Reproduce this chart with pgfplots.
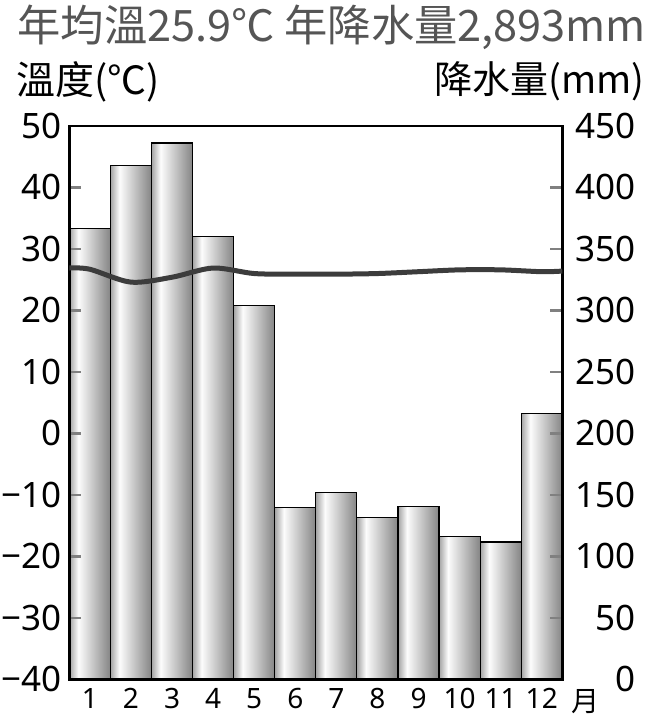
\documentclass[border=0pt]{standalone}
\usepackage{fontspec}
\setmainfont{Noto Sans CJK TC}
\newfontfamily\numfont{Noto Sans}
\usepackage{pgfplots}
\usepackage{pgfplotstable}
\pgfplotsset{compat=1.18}
\definecolor{barL}{gray}{0.64}
\definecolor{barH}{gray}{0.99}
\definecolor{barR}{gray}{0.52}
\definecolor{tline}{RGB}{60,60,60}
\definecolor{titlegray}{RGB}{85,85,85}
\pgfdeclarehorizontalshading{barshade}{100bp}{color(0bp)=(barL); color(25bp)=(barL); color(36bp)=(barH); color(75bp)=(barR); color(100bp)=(barR)}
\pgfplotstableread{
m t
0.5 26.9
1 26.7
2 24.6
3 25.4
4 26.9
5 26.0
6 25.9
7 25.9
8 26.0
9 26.3
10 26.6
11 26.6
12 26.3
12.5 26.4
}\temp
\pgfplotsset{barst/.style={ybar, bar width=1, draw=black, line width=1.2pt, shading=barshade, shade}}
\begin{document}
\begin{tikzpicture}
\path[use as bounding box] (-69.3pt,-35.7pt) rectangle (578.7pt,679.3pt);
\begin{axis}[
  scale only axis, width=493pt, height=553.3pt,
  xmin=0.5, xmax=12.5, ymin=0, ymax=450,
  axis x line=none, axis y line*=right,
  ytick={0,50,...,450},
  y axis line style={line width=2.5pt,-},
  ytick style={line width=2.5pt},
  major tick length=12pt, tick align=inside,
  /pgf/number format/assume math mode=true,
  yticklabel style={font=\numfont\fontsize{35}{35}\selectfont, anchor=east, inner sep=0pt, xshift=73.3pt},
  axis on top,
]
\addplot[barst] coordinates {(1,366.5)};
\addplot[barst] coordinates {(2,417.7)};
\addplot[barst] coordinates {(3,436.2)};
\addplot[barst] coordinates {(4,360.0)};
\addplot[barst] coordinates {(5,304.2)};
\addplot[barst] coordinates {(6,139.9)};
\addplot[barst] coordinates {(7,151.8)};
\addplot[barst] coordinates {(8,131.4)};
\addplot[barst] coordinates {(9,140.7)};
\addplot[barst] coordinates {(10,116.3)};
\addplot[barst] coordinates {(11,111.7)};
\addplot[barst] coordinates {(12,216.3)};
\end{axis}
\begin{axis}[
  scale only axis, width=493pt, height=553.3pt,
  xmin=0.5, xmax=12.5, ymin=-40, ymax=50,
  xtick={1,...,12},
  x tick style={draw=none},
  /pgf/number format/assume math mode=true,
  xticklabel style={font=\numfont\fontsize{28}{28}\selectfont, anchor=base, inner sep=0pt, yshift=-29.5pt},
  ytick={-40,-30,...,50},
  yticklabels={−40,−30,−20,−10,0,10,20,30,40,50},
  ytick pos=left,
  axis line style={line width=2.5pt},
  ytick style={line width=2.5pt},
  major tick length=12pt, tick align=inside,
  yticklabel style={font=\numfont\fontsize{35}{35}\selectfont, anchor=east, inner sep=0pt, xshift=-7.6pt},
]
\addplot[smooth, line width=5pt, color=tline, no marks] table[x=m,y=t]{\temp};
\end{axis}
\node[anchor=west, inner sep=0pt, text=titlegray, font=\fontsize{43.3}{43.3}\selectfont] at (-52pt,652.3pt) {年均溫25.9℃ 年降水量2,893mm};
\node[anchor=west, inner sep=0pt, font=\fontsize{39}{39}\selectfont] at (-53pt,597.8pt) {溫度(℃)};
\node[anchor=east, inner sep=0pt, font=\fontsize{38}{38}\selectfont] at (575.7pt,597.8pt) {降水量(mm)};
\node[anchor=center, inner sep=0pt, font=\fontsize{28}{28}\selectfont] at (515.7pt,-22.2pt) {月};
\end{tikzpicture}
\end{document}
